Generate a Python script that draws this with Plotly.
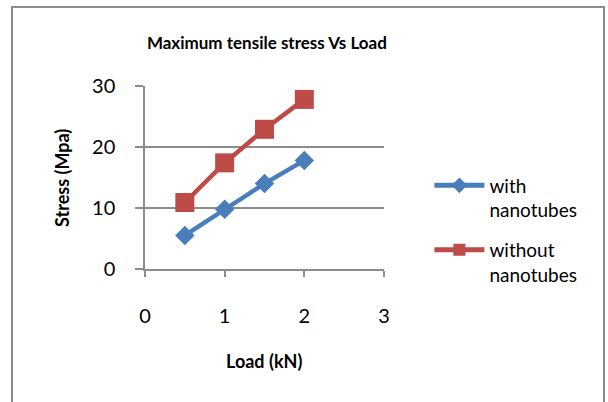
import plotly.graph_objects as go

load = [0.5, 1.0, 1.5, 2.0]
with_nt = [5.5, 9.8, 14.0, 17.8]
without_nt = [10.9, 17.4, 22.9, 27.8]
x_ticks = [0, 1, 2, 3]
y_ticks = [0, 10, 20, 30]

FONT = "Lato, 'Liberation Sans', sans-serif"
BLUE = "#4a7ebb"
RED = "#be4b48"
GRID = "#8c8c8c"

fig = go.Figure()
fig.add_trace(go.Scatter(x=load, y=with_nt, mode="lines+markers", name="with<br>nanotubes",
                         legendgroup="a",
                         line=dict(color=BLUE, width=4.5),
                         marker=dict(symbol="diamond", size=15, color=BLUE)))
fig.add_trace(go.Scatter(x=load, y=without_nt, mode="lines+markers", name="without<br>nanotubes",
                         legendgroup="b",
                         line=dict(color=RED, width=4.5),
                         marker=dict(symbol="square", size=19, color=RED)))

fig.update_layout(
    width=608, height=402,
    margin=dict(l=145, r=224, t=86, b=133),
    paper_bgcolor="white", plot_bgcolor="white",
    font=dict(family=FONT, color="black"),
    showlegend=True,
    legend=dict(x=1.19, y=0.56, xanchor="left", yanchor="top",
                font=dict(size=19, family=FONT), tracegroupgap=12,
                itemsizing="constant", valign="top",
                itemwidth=50, bgcolor="rgba(0,0,0,0)"),
    xaxis=dict(range=[0, 3], tickvals=x_ticks, showgrid=False, zeroline=False,
               showline=True, linecolor=GRID, linewidth=1.5,
               ticks="outside", ticklen=6, tickcolor=GRID, tickwidth=1.5,
               tickfont=dict(size=20, family=FONT), ticklabelstandoff=22),
    yaxis=dict(range=[0, 30], tickvals=y_ticks, showgrid=True, gridcolor=GRID, gridwidth=1.5,
               zeroline=False, showline=True, linecolor=GRID, linewidth=1.5,
               ticks="outside", ticklen=8, tickcolor=GRID, tickwidth=1.5,
               tickfont=dict(size=20, family=FONT), ticklabelstandoff=16),
    title=dict(text="<b>Maximum tensile stress Vs Load</b>", font=dict(size=17, family=FONT),
               x=0.51, xref="paper", xanchor="center", y=1 - 43 / 402, yanchor="middle"),
    shapes=[dict(type="rect", xref="paper", yref="paper",
                 x0=(12 - 145) / 239, x1=(604 - 145) / 239,
                 y0=-0.8, y1=(269 - 7) / 183,
                 line=dict(color="#8c8c8c", width=2), layer="below")],
    annotations=[
        dict(text="<b>Load (kN)</b>", xref="paper", yref="paper", x=(264 - 145) / 239,
             y=(269 - 361) / 183, xanchor="center", yanchor="middle", showarrow=False,
             font=dict(size=18, family=FONT)),
        dict(text="<b>Stress (Mpa)</b>", xref="paper", yref="paper", x=(62 - 145) / 239,
             y=(269 - 178) / 183, xanchor="center", yanchor="middle", showarrow=False,
             textangle=-90, font=dict(size=18, family=FONT)),
    ],
)

fig.write_html("out.html")
